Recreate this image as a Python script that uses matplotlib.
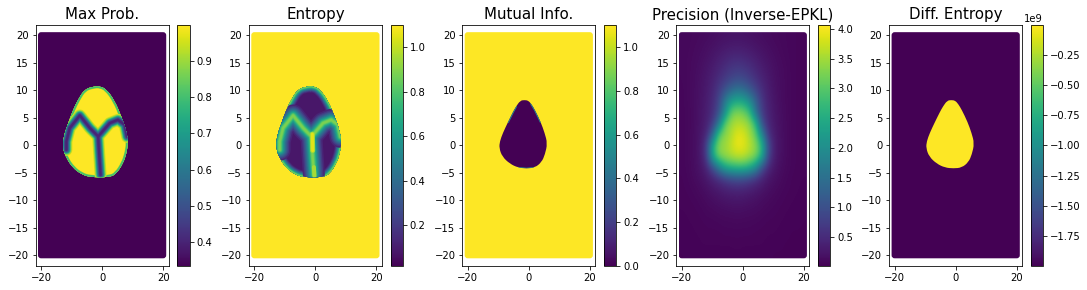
import numpy as np
import matplotlib
matplotlib.use('Agg')
import matplotlib.pyplot as plt
from matplotlib.patches import FancyBboxPatch, PathPatch
from matplotlib.path import Path
from matplotlib.colors import Normalize
from matplotlib.cm import ScalarMappable

titles = ['Max Prob.', 'Entropy', 'Mutual Info.', 'Precision (Inverse-EPKL)', 'Diff. Entropy']
vmins = [0.335, 0.016, 0.0, 0.012, -1.9986e9]
vmaxs = [0.998, 1.0975, 1.0986, 4.06, -0.004e9]

# контур большой области (Max Prob., Entropy)
outer_x = [-2.4, -5.7, -7.9, -9.5, -11.1, -12.6, -12.9, -11.7, -9.5, -6.8, -4, 2.5, 4.7, 6.9, 8, 8.5, 8, 6.3, 4.2, 1.4, -0.8]
outer_y = [10.7, 10.2, 8.26, 6.44, 4, 1.6, -0.55, -2.4, -4.2, -5.3, -5.85, -5.85, -5.2, -3.3, -1.5, 0.4, 2.5, 5.2, 8, 10.2, 10.7]

# контур малой области (Mutual Info., Diff. Entropy)
inner_x = [-1.4, -2.8, -4.2, -5.2, -6.8, -8.5, -9.5, -9.7, -8.7, -6.2, -3.5, -0.75, 2, 4.2, 5.3, 6.1, 5.2, 3.9, 2, 0.8, -0.2]
inner_y = [8.2, 8.1, 7.0, 6.0, 4.2, 2.2, 0.66, -0.55, -2.1, -3.4, -4.1, -4.25, -4.1, -3.1, -1.7, 0.3, 2.2, 4.2, 6.4, 7.5, 8.1]

# гребни между долями
ridge_left_x = [-1.3, -4, -7.3, -10.6, -11.7, -11.7]
ridge_left_y = [1.57, 3.1, 5.4, 3.1, 0.66, -0.86]
ridge_right_x = [-1.3, 2.5, 5.2, 7.4, 8.2]
ridge_right_y = [1.57, 4, 4.6, 3.7, 1.5]
ridge_mid_x = [-1.3, -1, -0.5]
ridge_mid_y = [1.57, -1.2, -5.4]

# Значения и ширина полос (от края полосы к центру)
prob_levels = [0.95, 0.9, 0.85, 0.8, 0.75, 0.7, 0.65, 0.6, 0.55, 0.5, 0.45, 0.4]
prob_widths = [12, 10.5, 9.5, 8.5, 7.5, 7, 6.3, 5.6, 5, 4.2, 3.2, 2.2]
ent_levels = [0.13, 0.2, 0.27, 0.34, 0.41, 0.48, 0.55, 0.62, 0.69, 0.76, 0.83, 0.88]
ent_widths = [22, 19, 16.5, 14.5, 12.5, 10.8, 9.2, 7.8, 6.4, 5, 3.6, 2.2]

# Precision: строки y = 20, 18, ... -20; столбцы x = -20, -18, ... 20
precision = np.array([
    [.10, .10, .11, .12, .14, .16, .18, .20, .21, .22, .21, .19, .17, .15, .13, .11, .10, .09, .08, .07, .06],
    [.09, .10, .12, .14, .17, .20, .24, .28, .30, .31, .30, .27, .23, .19, .16, .13, .11, .09, .08, .07, .06],
    [.09, .11, .13, .16, .20, .26, .33, .40, .46, .48, .46, .40, .33, .26, .20, .16, .12, .10, .08, .07, .06],
    [.09, .11, .14, .18, .24, .32, .42, .54, .64, .69, .66, .56, .44, .33, .25, .18, .14, .11, .08, .07, .06],
    [.09, .11, .15, .20, .28, .38, .54, .70, .85, .95, .90, .76, .58, .42, .30, .20, .15, .11, .08, .07, .06],
    [.08, .11, .15, .21, .30, .44, .70, 1.05, 1.4, 1.6, 1.5, 1.2, .85, .54, .34, .22, .15, .11, .08, .07, .06],
    [.08, .11, .15, .22, .32, .50, .85, 1.7, 2.3, 2.5, 2.4, 2.0, 1.3, .66, .38, .24, .16, .11, .08, .07, .06],
    [.08, .10, .15, .23, .34, .54, 1.0, 2.0, 3.1, 3.3, 3.2, 2.8, 1.5, .74, .42, .26, .17, .12, .08, .07, .06],
    [.08, .10, .15, .24, .38, .70, 1.6, 3.1, 3.45, 3.6, 3.55, 3.35, 2.7, 1.0, .48, .28, .18, .12, .08, .07, .06],
    [.08, .10, .16, .25, .46, 1.3, 3.0, 3.35, 3.55, 3.9, 3.85, 3.5, 3.1, 1.9, .62, .32, .19, .12, .08, .07, .06],
    [.08, .10, .16, .27, .75, 2.5, 3.35, 3.45, 3.7, 3.95, 3.9, 3.65, 3.35, 2.7, 1.0, .36, .20, .12, .08, .07, .06],
    [.08, .10, .16, .26, .70, 2.4, 3.25, 3.4, 3.55, 3.65, 3.65, 3.45, 3.25, 2.5, .90, .34, .19, .12, .08, .07, .06],
    [.08, .10, .15, .23, .42, .95, 1.7, 2.4, 2.6, 2.7, 2.7, 2.5, 2.0, 1.0, .48, .26, .16, .11, .08, .07, .06],
    [.07, .09, .13, .18, .27, .40, .56, .74, .90, .96, .92, .80, .60, .42, .26, .18, .13, .09, .07, .06, .06],
    [.07, .08, .10, .13, .18, .24, .30, .36, .40, .42, .40, .35, .30, .23, .17, .13, .10, .08, .07, .06, .05],
    [.06, .07, .08, .10, .13, .16, .19, .22, .24, .25, .24, .21, .18, .15, .12, .10, .08, .07, .06, .05, .05],
    [.06, .06, .07, .08, .10, .11, .13, .14, .15, .16, .15, .14, .13, .11, .09, .08, .07, .06, .05, .05, .05],
    [.05, .06, .06, .07, .08, .08, .09, .10, .10, .11, .10, .10, .09, .08, .07, .07, .06, .05, .05, .05, .04],
    [.05, .05, .06, .06, .07, .07, .07, .08, .08, .08, .08, .08, .07, .07, .06, .06, .05, .05, .04, .04, .04],
    [.05, .05, .05, .06, .06, .06, .06, .06, .06, .07, .06, .06, .06, .06, .05, .05, .05, .04, .04, .04, .04],
    [.04, .05, .05, .05, .05, .05, .05, .05, .05, .05, .05, .05, .05, .05, .05, .04, .04, .04, .04, .04, .03],
])

W, H = 1087, 290
dpi = 72
fig = plt.figure(figsize=(W / dpi, H / dpi), dpi=dpi)
axes_left = [35.7, 249, 462.4, 676.4, 889.3]
cmap = plt.get_cmap('viridis')


def box(left, width):
    return [left / W, 1 - 266 / H, width / W, (266 - 25.3) / H]


def region(ax):
    # прямоугольник со скруглёнными углами (3 px)
    return FancyBboxPatch((-21, -20.6), 42, 41.15, boxstyle='round,pad=0,rounding_size=1',
                          mutation_aspect=0.55, transform=ax.transData, lw=0)


def smooth_path(x, y):
    # замкнутый контур из квадратичных кривых, точки контура как контрольные
    pts = np.column_stack([x, y])
    mids = (pts + np.roll(pts, -1, axis=0)) / 2
    verts = [mids[-1]]
    codes = [Path.MOVETO]
    for p, m in zip(pts, mids):
        verts += [p, m]
        codes += [Path.CURVE3, Path.CURVE3]
    return Path(verts, codes)


def layered(ax, outline, ridges, levels, widths, color_of, clip, edge_scale, edge_floor):
    # каждый уровень целиком рисуем поверх предыдущего, чтобы полосы не перекрывались
    for v, w in zip(levels, widths):
        if v >= edge_floor:
            edge = PathPatch(outline, fill=False, ec=color_of(v), lw=w * edge_scale)
            ax.add_patch(edge)
            edge.set_clip_path(clip)
        for x, y in ridges:
            line, = ax.plot(x, y, color=color_of(v), lw=w, solid_capstyle='round',
                            solid_joinstyle='round')
            line.set_clip_path(clip)


def streak(ax, x, y, levels, widths, color_of, clip):
    for v, w in zip(levels, widths):
        line, = ax.plot(x, y, color=color_of(v), lw=w, solid_capstyle='round')
        line.set_clip_path(clip)


for i in range(5):
    ax = fig.add_axes(box(axes_left[i], 132.8))
    cax = fig.add_axes(box(axes_left[i] + 141.6, 12.2))
    norm = Normalize(vmins[i], vmaxs[i])
    color_of = lambda v, n=norm: cmap(n(v))

    if i == 3:
        im = ax.imshow(precision, extent=[-21, 21, -21, 21], cmap=cmap, norm=norm,
                       interpolation='bicubic', aspect='auto')
        im.set_clip_path(region(ax))
    else:
        # фон: у Max Prob. и Diff. Entropy минимум, у Entropy и Mutual Info. максимум
        back = vmins[i] if i in (0, 4) else vmaxs[i]
        bg = region(ax)
        bg.set_facecolor(color_of(back))
        ax.add_patch(bg)

    if i in (0, 1):
        outline = smooth_path(outer_x, outer_y)
        shape = PathPatch(outline, lw=0, fc=color_of(0.998 if i == 0 else 0.08))
        ax.add_patch(shape)
        ridges = [(ridge_left_x, ridge_left_y), (ridge_right_x, ridge_right_y), (ridge_mid_x, ridge_mid_y)]
        if i == 0:
            layered(ax, outline, ridges, prob_levels, prob_widths, color_of, shape, 0.35, 0.8)
        else:
            layered(ax, outline, ridges, ent_levels, ent_widths, color_of, shape, 0.55, 0.13)
            streak(ax, [-1, -0.9], [2, -1], [0.95, 1.05], [5, 3], color_of, shape)
            streak(ax, [-0.5, -0.3], [-4, -5.7], [0.95], [4], color_of, shape)
    if i in (2, 4):
        fill = 0.0 if i == 2 else -0.004e9
        shape = PathPatch(smooth_path(inner_x, inner_y), lw=0, fc=color_of(fill))
        ax.add_patch(shape)
        if i == 2:
            streak(ax, inner_x[2:5], inner_y[2:5], [0.5], [2], color_of, shape)
            streak(ax, inner_x[17:20], inner_y[17:20], [0.5], [2], color_of, shape)
            streak(ax, inner_x[10:13], inner_y[10:13], [0.5], [1.5], color_of, shape)

    ax.set_xlim(-21.75, 21.75)
    ax.set_ylim(-22, 21.8)
    ax.set_xticks([-20, 0, 20])
    ax.set_yticks([-20, -15, -10, -5, 0, 5, 10, 15, 20])
    ax.set_title(titles[i], fontsize=15, pad=6)
    fig.colorbar(ScalarMappable(norm=norm, cmap=cmap), cax=cax)

plt.savefig('out.png', dpi=dpi)
